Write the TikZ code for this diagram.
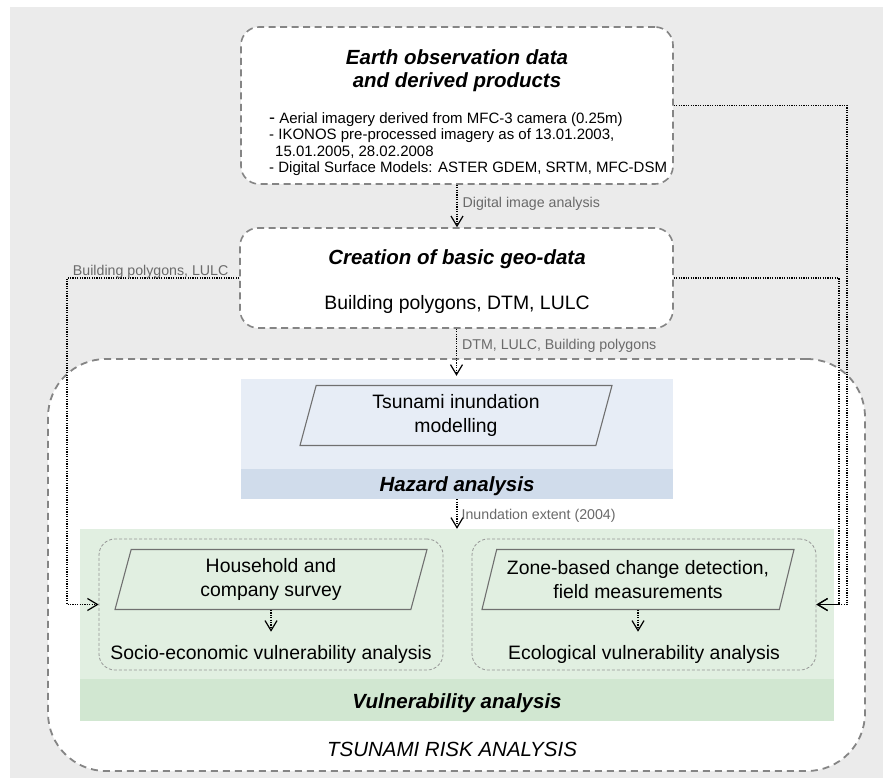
\documentclass[tikz,border=0pt]{standalone}
\usepackage{fontspec}
\setmainfont{Liberation Sans}
\usetikzlibrary{arrows.meta,shapes.geometric}

\definecolor{pagebg}{HTML}{EBEBEB}
\definecolor{framegray}{HTML}{858585}
\definecolor{hazlight}{HTML}{E7EDF6}
\definecolor{hazband}{HTML}{D0DCEB}
\definecolor{vullight}{HTML}{E1EFE1}
\definecolor{vulband}{HTML}{D1E7D1}
\definecolor{labelgray}{HTML}{6A6A6A}
\definecolor{paraedge}{HTML}{707070}

\newcommand\dgTitle{\fontsize{20.5pt}{23pt}\selectfont\bfseries\itshape}
\newcommand\dgBody{\fontsize{19.4pt}{24pt}\selectfont}
\newcommand\dgList{\fontsize{15pt}{16.5pt}\selectfont}
\newcommand\dgLabel{\fontsize{14.2pt}{16pt}\selectfont}

\begin{document}
\begin{tikzpicture}[x=1pt,y=-1pt,
  databox/.style={draw=framegray, line width=1.6pt, dash pattern=on 7pt off 4.5pt,
    fill=white, rounded corners=18pt, inner sep=0pt},
  riskbox/.style={draw=framegray, line width=1.8pt, dash pattern=on 7pt off 5pt,
    fill=white, rounded corners=58pt, inner sep=0pt},
  subbox/.style={draw=framegray!85, line width=0.8pt, dash pattern=on 3pt off 2pt,
    rounded corners=16pt, inner sep=0pt},
  band/.style={inner sep=0pt, draw=none},
  para/.style={trapezium, trapezium left angle=69, trapezium right angle=111,
    trapezium stretches body, draw=paraedge, line width=1.1pt,
    minimum width=312pt, minimum height=60pt, inner sep=0pt, align=center, font=\dgBody},
  flow/.style={draw=black, line width=1.3pt, dash pattern=on 1.2pt off 1.2pt,
    -{Straight Barb[length=10pt,width=12pt,line width=1.2pt]}},
  elabel/.style={font=\dgLabel, text=labelgray, inner sep=0pt, anchor=base west},
  txt/.style={inner sep=0pt, anchor=base},
]
\useasboundingbox (0,0) rectangle (883,778);
\fill[pagebg] (10,7) rectangle (883,778);

% overall frame and the two analysis areas
\node[riskbox, minimum width=817pt, minimum height=412pt] (risk) at (456.5,565) {};
\node[band, fill=hazlight, minimum width=432pt, minimum height=120pt] (haz) at (457,439) {};
\node[band, fill=hazband, minimum width=432pt, minimum height=30pt] (hazbar) at (457,484) {};
\node[band, fill=vullight, minimum width=754pt, minimum height=192pt] (vul) at (457,625) {};
\node[band, fill=vulband, minimum width=754pt, minimum height=42pt] (vulbar) at (457,700) {};
\node[subbox, minimum width=344pt, minimum height=131pt] (socio) at (271,604.5) {};
\node[subbox, minimum width=344pt, minimum height=131pt] (eco) at (644,604.5) {};

% process steps
\node[para, fill=hazlight] (tsu) at (456,415.5) {Tsunami inundation\\modelling};
\node[para, fill=vullight] (hhs) at (271,579.5) {Household and\\company survey};
\node[para, fill=vullight] (zone) at (638,579.5) {Zone-based change detection,\\field measurements};

% data boxes
\node[databox, minimum width=432pt, minimum height=157pt] (eo) at (457,105.5) {};
\node[databox, minimum width=433pt, minimum height=100pt] (geo) at (456.5,278) {};

% texts
\node[txt, font=\dgTitle] (eot1) at (457,64.3) {Earth observation data};
\node[txt, font=\dgTitle] (eot2) at (457,87.3) {and derived products};
\node[txt, anchor=base west, font=\dgList] (l1) at (269,123.5) {{\fontsize{18pt}{18pt}\selectfont -} Aerial imagery derived from MFC-3 camera (0.25m)};
\node[txt, anchor=base west, font=\dgList] (l2) at (269,140) {- IKONOS pre-processed imagery as of 13.01.2003,};
\node[txt, anchor=base west, font=\dgList] (l3) at (275,156.5) {15.01.2005, 28.02.2008};
\node[txt, anchor=base west, font=\dgList] (l4) at (269,173) {- Digital Surface Models: ASTER GDEM, SRTM, MFC-DSM};

\node[txt, font=\dgTitle] (geot) at (457,264.3) {Creation of basic geo-data};
\node[txt, font=\dgBody] (geob) at (457,309) {Building polygons, DTM, LULC};

\node[txt, font=\dgTitle] (hazt) at (457,491.5) {Hazard analysis};
\node[txt, font=\dgTitle] (vult) at (457,708) {Vulnerability analysis};
\node[txt, font=\fontsize{20.5pt}{23pt}\selectfont\itshape] (riskt) at (452,756.5) {TSUNAMI RISK ANALYSIS};

\node[txt, font=\dgBody] (sev) at (271,659) {Socio-economic vulnerability analysis};
\node[txt, font=\dgBody] (ecv) at (644,659) {Ecological vulnerability analysis};

% routing columns
\coordinate (leftrail) at (67,0);
\coordinate (railA) at (847,0);
\coordinate (railB) at (839,0);

% connectors
\draw[flow] (eo.south) -- node[elabel, pos=0.545, xshift=5pt] {Digital image analysis} (eo.south |- geo.north);
\draw[flow, shorten >=3pt] (geo.south) -- node[elabel, pos=0.41, xshift=5pt] {DTM, LULC, Building polygons} (geo.south |- haz.north);
\draw[flow] (hazbar.south) -- node[elabel, pos=0.7, xshift=4pt] {Inundation extent (2004)} (hazbar.south |- vul.north);

\draw[flow] (geo.west) -| node[elabel, anchor=base, pos=0.257, yshift=3pt] {Building polygons, LULC} (leftrail |- socio.west) -- (socio.west);
\draw[flow] (eo.east) -| (railA |- eco.east) -- (eco.east);
\draw[flow] (geo.east) -| (railB |- eco.east) -- (eco.east);

\draw[flow, shorten >=13pt] (hhs.south) -- (hhs.south |- sev.north);
\draw[flow, shorten >=13pt] (zone.south) -- (zone.south |- ecv.north);
\end{tikzpicture}
\end{document}
